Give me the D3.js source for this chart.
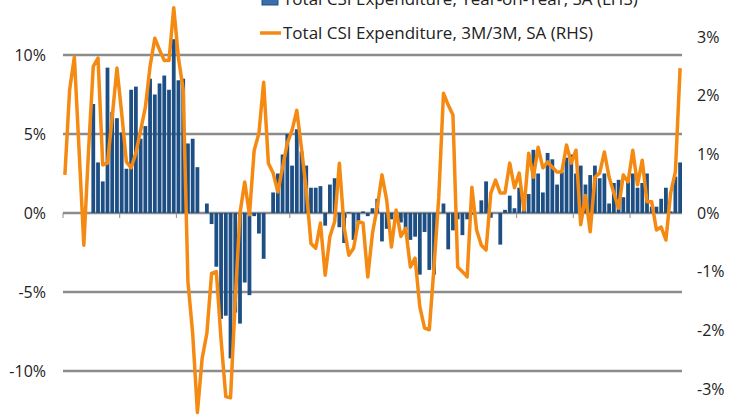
<!DOCTYPE html>
<html>
<head>
<meta charset="utf-8">
<script src="https://cdn.jsdelivr.net/npm/d3@7"></script>
<style>
  body { margin: 0; background: #fff; }
  text { font-family: "Open Sans", sans-serif; fill: #222; }
</style>
</head>
<body>
<svg id="chart" width="746" height="419"></svg>
<script>
// monthly series, 131 months; bars start at month 6
var yoy = [null,null,null,null,null,null,
  6.9,3.2,2.0,9.2,6.4,6.0,5.1,2.8,7.8,8.0,4.7,5.5,8.5,7.5,8.2,8.7,7.8,11.0,8.4,8.5,4.4,
  4.7,2.9,0,0.6,-0.7,-3.4,-6.7,-6.5,-9.2,-6.3,-7.0,-4.4,-5.2,-0.2,-1.3,-2.9,0,
  1.3,2.5,3.7,5.0,3.0,5.3,3.9,3.0,1.6,1.6,1.7,-0.8,1.8,2.2,-0.9,-1.9,0.05,-1.7,-0.6,0.1,
  -0.2,0.3,0.9,-1.8,-1.0,-0.4,-0.2,-0.6,-1.1,-1.7,-1.5,-3.9,-1.2,-3.6,-3.9,0,0.6,-2.3,
  -1.1,-0.4,-1.4,-0.4,-0.1,0,0.8,2.0,-0.3,0,-2.0,0.2,1.1,0.3,1.6,0.4,1.2,4.0,2.5,1.3,
  3.8,3.4,1.8,2.6,3.5,3.7,2.5,3.0,1.8,2.4,3.0,2.2,2.5,0.6,1.9,2.1,1.0,2.0,2.5,1.6,1.9,
  2.5,0.4,0.4,0.9,1.6,0.1,2.3,3.2];

var m3m3 = [0.65,2.1,2.66,1.07,-0.55,1.07,2.5,2.64,0.82,0.85,1.64,2.47,1.7,0.87,0.77,1.02,
  1.41,1.8,2.5,2.98,2.78,2.6,2.6,3.5,2.64,2.1,-1.17,-2.05,-3.4,-2.48,-2.05,-1.03,-1.0,
  -2.16,-3.13,-3.15,-1.48,0,0.53,-0.03,1.07,1.36,2.23,0.85,0.68,0.36,0.78,1.19,1.41,1.75,
  1.1,0.4,-0.52,-0.6,-0.17,-1.06,-0.4,-0.15,0.85,-0.24,-0.72,-0.6,-0.15,-0.17,-1.09,-0.34,
  0.1,0.65,0.22,-0.58,0.05,-0.4,-0.26,-0.92,-0.77,-1.6,-1.96,-1.99,-0.92,0.27,2.04,1.84,
  1.67,-0.92,-1.0,-1.09,0.44,-0.29,-0.55,-0.63,0.34,0.56,0.34,0.34,0.85,0.43,0.68,0.05,
  1.02,0.61,1.12,0.77,0.87,0.78,0.7,0.7,1.16,0.85,1.07,-0.2,0.3,-0.32,0.61,0.68,1.04,0.61,
  0.34,0.08,0.65,0.53,1.07,0.48,0.9,0.19,0.19,-0.29,-0.24,-0.46,0.34,0.7,2.47];

var leftTicks = [-10, -5, 0, 5, 10];
var rightTicks = [-3, -2, -1, 0, 1, 2, 3];
var legendLabels = ["Total CSI Expenditure, Year-on-Year, SA (LHS)",
                    "Total CSI Expenditure, 3M/3M, SA (RHS)"];

var svg = d3.select("#chart");
var L = 63, R = 682;

var x = d3.scaleBand().domain(d3.range(m3m3.length)).range([L, R]).paddingInner(0.2);
var yL = d3.scaleLinear().domain([-10, 10]).range([371, 55]);
var yR = d3.scaleLinear().domain([-3, 3]).range([389, 37]);

// gridlines
svg.append("g").selectAll("line").data(leftTicks).enter().append("line")
  .attr("x1", L).attr("x2", R)
  .attr("y1", function(d){ return yL(d); }).attr("y2", function(d){ return yL(d); })
  .attr("stroke", "#8c8c8c").attr("stroke-width", 2.5);

// bars (keep month index with the value)
var barData = yoy.map(function(v, i){ return {i: i, v: v}; })
  .filter(function(d){ return d.v !== null; });
svg.append("g").selectAll("rect").data(barData).enter().append("rect")
  .attr("x", function(d){ return x(d.i); })
  .attr("width", x.bandwidth())
  .attr("y", function(d){ return yL(Math.max(0, d.v)); })
  .attr("height", function(d){ return Math.abs(yL(d.v) - yL(0)); })
  .attr("fill", "#1d4f84");

// year ticks on the zero line
var yearTicks = d3.range(0, m3m3.length, 12);
svg.append("g").selectAll("line").data(yearTicks).enter().append("line")
  .attr("x1", function(d){ return L + d * (R - L) / m3m3.length; })
  .attr("x2", function(d){ return L + d * (R - L) / m3m3.length; })
  .attr("y1", yL(0)).attr("y2", yL(0) + 5)
  .attr("stroke", "#8c8c8c").attr("stroke-width", 1);

// line
var line = d3.line()
  .x(function(d, i){ return x(i) + x.bandwidth() / 2; })
  .y(function(d){ return yR(d); });
svg.append("path").attr("d", line(m3m3))
  .attr("fill", "none").attr("stroke", "#f58a12").attr("stroke-width", 3.5)
  .attr("stroke-linejoin", "round");

// axes labels
var fmt = function(d){ return d + "%"; };
var yAxisL = d3.axisLeft(yL).tickValues(leftTicks).tickFormat(fmt).tickSize(0).tickPadding(0);
var gl = svg.append("g").attr("transform", "translate(46,0)").call(yAxisL);
var yAxisR = d3.axisRight(yR).tickValues(rightTicks).tickFormat(fmt).tickSize(0).tickPadding(0);
var gr = svg.append("g").attr("transform", "translate(697,0)").call(yAxisR);
[gl, gr].forEach(function(g){
  g.select(".domain").remove();
  g.selectAll("text").attr("font-size", 16).attr("fill", "#222")
    .style("font-family", "'Open Sans', sans-serif");
});

// legend
svg.append("rect").attr("x", 262).attr("y", -6).attr("width", 16).attr("height", 11)
  .attr("fill", "#3b6ea8").attr("stroke", "#1d4f84");
svg.append("text").attr("x", 283).attr("y", 5).attr("font-size", 17).text(legendLabels[0]);
svg.append("line").attr("x1", 260).attr("x2", 281).attr("y1", 33).attr("y2", 33)
  .attr("stroke", "#f58a12").attr("stroke-width", 3.5);
svg.append("text").attr("x", 283).attr("y", 39).attr("font-size", 17).text(legendLabels[1]);
</script>
</body>
</html>
